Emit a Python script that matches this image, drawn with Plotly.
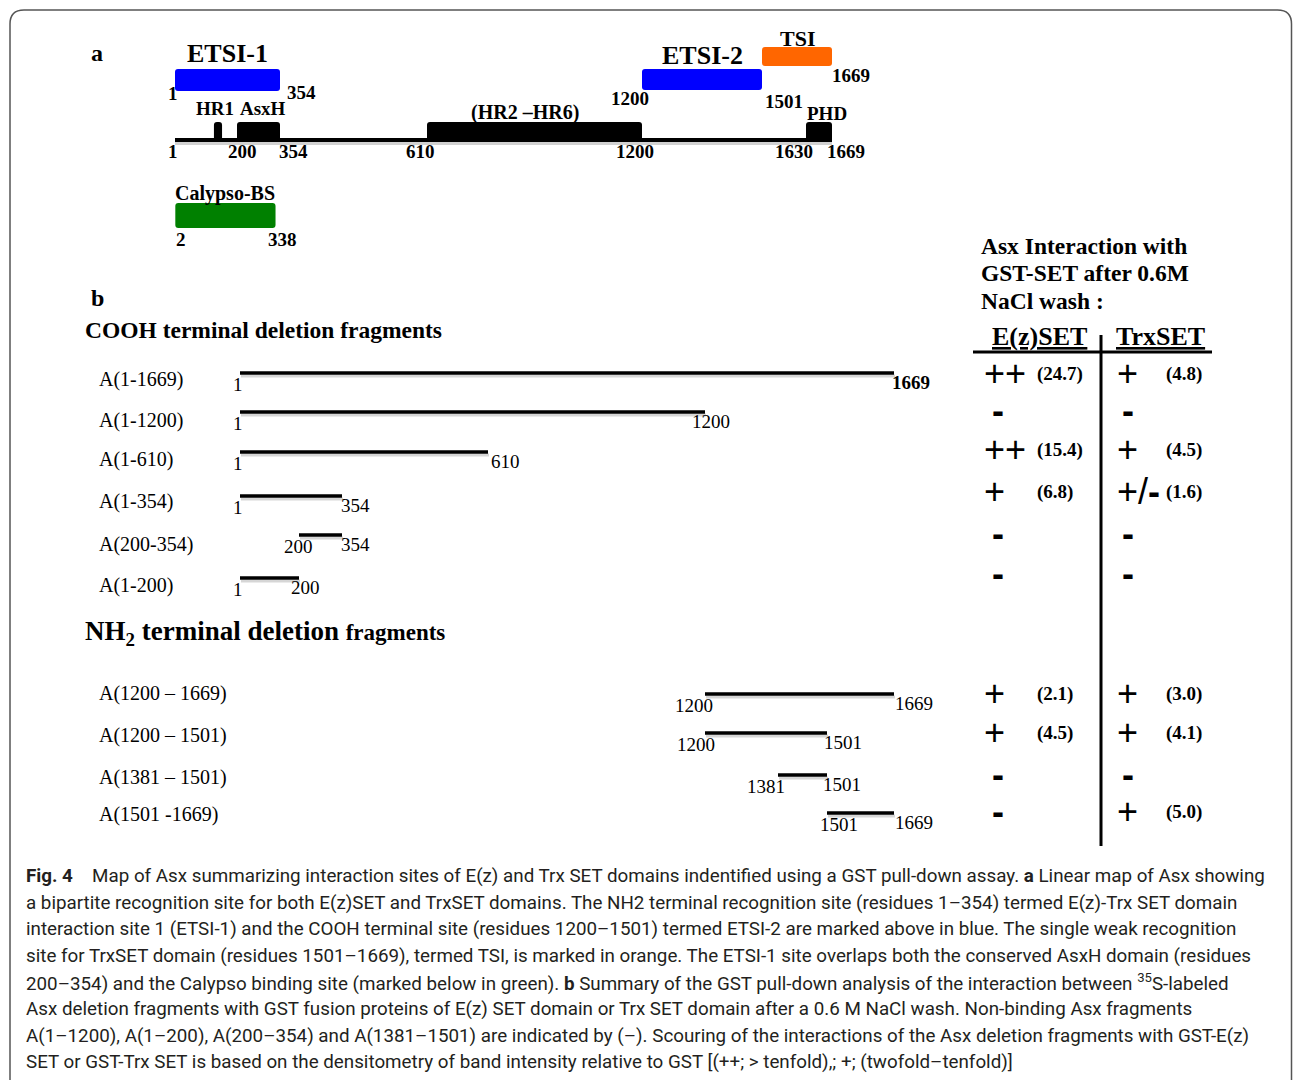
import numpy as np
import plotly.graph_objects as go

# ======================= DATA =======================
PROTEIN_START = 1
PROTEIN_END = 1669

domain_names = ["HR1", "AsxH", "(HR2 –HR6)", "PHD"]
domain_start = [126, 200, 610, 1630]
domain_end = [152, 354, 1200, 1669]
map_ticks = [1, 200, 354, 610, 1200, 1630, 1669]

site_names = ["ETSI-1", "ETSI-2", "TSI", "Calypso-BS"]
site_start = [1, 1200, 1501, 2]
site_end = [354, 1501, 1669, 338]

fragment_names = ["A(1-1669)", "A(1-1200)", "A(1-610)", "A(1-354)", "A(200-354)", "A(1-200)",
                  "A(1200 – 1669)", "A(1200 – 1501)", "A(1381 – 1501)", "A(1501 -1669)"]
fragment_start = [1, 1, 1, 1, 200, 1, 1200, 1200, 1381, 1501]
fragment_end = [1669, 1200, 610, 354, 354, 200, 1669, 1501, 1501, 1669]

ez_score = ["++", "-", "++", "+", "-", "-", "+", "+", "-", "-"]
ez_fold = ["24.7", "", "15.4", "6.8", "", "", "2.1", "4.5", "", ""]
trx_score = ["+", "-", "+", "+/-", "-", "-", "+", "+", "-", "+"]
trx_fold = ["4.8", "", "4.5", "1.6", "", "", "3.0", "4.1", "", "5.0"]

caption_lines = [
    "<b>Fig. 4</b>\u2003Map of Asx summarizing interaction sites of E(z) and Trx SET domains indentified using a GST pull-down assay. <b>a</b> Linear map of Asx showing",
    "a bipartite recognition site for both E(z)SET and TrxSET domains. The NH2 terminal recognition site (residues 1–354) termed E(z)-Trx SET domain",
    "interaction site 1 (ETSI-1) and the COOH terminal site (residues 1200–1501) termed ETSI-2 are marked above in blue. The single weak recognition",
    "site for TrxSET domain (residues 1501–1669), termed TSI, is marked in orange. The ETSI-1 site overlaps both the conserved AsxH domain (residues",
    "200–354) and the Calypso binding site (marked below in green). <b>b</b> Summary of the GST pull-down analysis of the interaction between <sup>35</sup>S-labeled",
    "Asx deletion fragments with GST fusion proteins of E(z) SET domain or Trx SET domain after a 0.6 M NaCl wash. Non-binding Asx fragments",
    "A(1–1200), A(1–200), A(200–354) and A(1381–1501) are indicated by (–). Scouring of the interactions of the Asx deletion fragments with GST-E(z)",
    "SET or GST-Trx SET is based on the densitometry of band intensity relative to GST [(++; > tenfold),; +; (twofold–tenfold)]",
]

# ======================= LAYOUT / STYLE =======================
W, H = 1293, 1080
SERIF = "Liberation Serif, Times New Roman, serif"
SANS = "Liberation Sans, Arial, sans-serif"
CAPF = "Roboto, sans-serif"

# schematic (non-linear) residue -> pixel scales
A_RES = [1, 200, 354, 610, 1200, 1501, 1630, 1669]
A_PX = [175, 237, 280, 427, 642, 762, 806, 832]
B_RES = [1, 200, 354, 610, 1200, 1381, 1501, 1669]
B_PX = [240, 299, 342, 488, 705, 778, 827, 894]


def ax(r):
    return float(np.interp(r, A_RES, A_PX))


def bx(r):
    return float(np.interp(r, B_RES, B_PX))


MAP_Y = 140
DOMAIN_TOP = 122
domain_label_dx = [-3, 4, -10, 8]
domain_label_y = [108, 108, 112, 113]
tick_dx = [-2, 5, 13, -7, -7, -12, 14]
TICK_Y = 151

site_colors = ["#0000ff", "#0000ff", "#ff6600", "#008000"]
site_y0 = [69, 69, 47, 203]
site_y1 = [91, 90, 66, 228]
site_label_y = [53, 55, 38, 193]
site_label_size = [26, 26, 22, 20]
site_start_lab = [(-2, 93), (-12, 98), None, (6, 239)]
site_end_lab = [(21, 92), (22, 101), (19, 75), (7, 239)]

row_bar_y = [373, 412, 452, 496, 535, 578, 694, 733, 775, 813]
row_label_y = [379, 420, 459, 501, 544, 585, 693, 735, 777, 814]
start_dx = [-2, -2, -2, -2, -1, -2, -11, -9, -12, 12]
end_dx = [-4, -15, 1, -3, -3, -10, -1, -5, -6, -1]
score_y = [373, 410, 449, 491, 533, 573, 693, 732, 774, 811]

fig = go.Figure()
shapes = []
ann = []


def text(x, y, s, size, font=SERIF, xanchor="center", color="black"):
    ann.append(dict(x=x, y=y, text=s, showarrow=False, xanchor=xanchor, yanchor="middle",
                    font=dict(family=font, size=size, color=color)))


def rrect(x0, x1, y0, y1, r):
    return (f"M{x0+r},{y0} L{x1-r},{y0} Q{x1},{y0} {x1},{y0+r} L{x1},{y1-r} Q{x1},{y1} {x1-r},{y1} "
            f"L{x0+r},{y1} Q{x0},{y1} {x0},{y1-r} L{x0},{y0+r} Q{x0},{y0} {x0+r},{y0} Z")


# outer rounded frame
shapes.append(dict(type="path", path=rrect(10, 1291.5, 10, 1100, 14), xref="x", yref="y",
                   line=dict(color="#555555", width=1.5), fillcolor="rgba(0,0,0,0)"))

# ---------- part a ----------
text(97, 53, "<b>a</b>", 24)
fig.add_trace(go.Scatter(x=[ax(PROTEIN_START), ax(PROTEIN_END)], y=[MAP_Y + 3, MAP_Y + 3], mode="lines",
                         line=dict(color="rgba(0,0,0,0.18)", width=4), hoverinfo="skip"))
fig.add_trace(go.Scatter(x=[ax(PROTEIN_START), ax(PROTEIN_END)], y=[MAP_Y, MAP_Y], mode="lines",
                         line=dict(color="black", width=4), hoverinfo="skip"))
for i, n in enumerate(domain_names):
    x0, x1 = ax(domain_start[i]), ax(domain_end[i])
    shapes.append(dict(type="path", path=rrect(x0, x1, DOMAIN_TOP, MAP_Y + 1, 3), xref="x", yref="y",
                       line=dict(width=0), fillcolor="black"))
    text((x0 + x1) / 2 + domain_label_dx[i], domain_label_y[i], f"<b>{n}</b>", 19 if i != 2 else 20)
for i, t in enumerate(map_ticks):
    text(ax(t) + tick_dx[i], TICK_Y, f"<b>{t}</b>", 19)

for i, n in enumerate(site_names):
    x0, x1 = ax(site_start[i]), ax(site_end[i])
    shapes.append(dict(type="path", path=rrect(x0, x1, site_y0[i], site_y1[i], 3), xref="x", yref="y",
                       line=dict(width=0), fillcolor=site_colors[i]))
    text((x0 + x1) / 2, site_label_y[i], f"<b>{n}</b>", site_label_size[i])
    if site_start_lab[i]:
        dx, yy = site_start_lab[i]
        text(x0 + dx, yy, f"<b>{site_start[i]}</b>", 19)
    if site_end_lab[i]:
        dx, yy = site_end_lab[i]
        text(x1 + dx, yy, f"<b>{site_end[i]}</b>", 19)

# ---------- part b ----------
text(97, 298, "<b>b</b>", 24)
text(83, 330, "<b>COOH terminal deletion fragments</b>", 23.5, xanchor="left")
text(83, 633, "<b>NH<sub>2</sub> terminal deletion <span style='font-size:23px'>fragments</span></b>", 27,
     xanchor="left")

xs, ys, sxs, sys_ = [], [], [], []
for i in range(len(fragment_names)):
    x0, x1 = bx(fragment_start[i]), bx(fragment_end[i])
    y = row_bar_y[i]
    xs += [x0, x1, None]
    ys += [y, y, None]
    sxs += [x0 + 1, x1 + 1, None]
    sys_ += [y + 3, y + 3, None]
    text(97, row_label_y[i], fragment_names[i], 20, xanchor="left")
    text(x0 + start_dx[i], y + 11, str(fragment_start[i]), 19)
    lab = f"<b>{fragment_end[i]}</b>" if i == 0 else str(fragment_end[i])
    text(x1 + end_dx[i], y + 9, lab, 19, xanchor="left")
fig.add_trace(go.Scatter(x=sxs, y=sys_, mode="lines", line=dict(color="rgba(0,0,0,0.16)", width=3),
                         hoverinfo="skip"))
fig.add_trace(go.Scatter(x=xs, y=ys, mode="lines", line=dict(color="black", width=3.5), hoverinfo="skip"))

# interaction table
for j, s in enumerate(["Asx Interaction with", "GST-SET after 0.6M", "NaCl wash :"]):
    text(979, [246, 273, 301][j], f"<b>{s}</b>", 23.5, xanchor="left")
text(1039, 336, "<b><u>E(z)SET</u></b>", 26)
text(1160, 336, "<b><u>TrxSET</u></b>", 26)
fig.add_trace(go.Scatter(x=[973, 1212], y=[352, 352], mode="lines", line=dict(color="black", width=3),
                         hoverinfo="skip"))
fig.add_trace(go.Scatter(x=[1101, 1101], y=[335, 846], mode="lines", line=dict(color="black", width=3),
                         hoverinfo="skip"))


def sym(s):
    return s.replace("-", "<b>-</b>")


for i in range(len(fragment_names)):
    y = score_y[i]
    sx = 982 if "+" in ez_score[i] else 990
    text(sx, y, sym(ez_score[i]), 36, font=SANS, xanchor="left")
    if ez_fold[i]:
        text(1035, y + 1, f"<b>({ez_fold[i]})</b>", 19, xanchor="left")
    tx = 1115 if "+" in trx_score[i] else 1120
    text(tx, y, sym(trx_score[i]), 36, font=SANS, xanchor="left")
    if trx_fold[i]:
        text(1164, y + 1, f"<b>({trx_fold[i]})</b>", 19, xanchor="left")

# caption
for k, line in enumerate(caption_lines):
    text(24, 876 + k * 26.6, line, 18.8, font=CAPF, xanchor="left", color="#231f20")

fig.update_layout(
    width=W, height=H, margin=dict(l=0, r=0, t=0, b=0),
    paper_bgcolor="white", plot_bgcolor="white", showlegend=False,
    xaxis=dict(range=[0, W], visible=False, fixedrange=True),
    yaxis=dict(range=[H, 0], visible=False, fixedrange=True),
    shapes=shapes, annotations=ann,
)
fig.write_html("out.html", config={"displayModeBar": False},
               post_script="document.body.style.margin='0';")
